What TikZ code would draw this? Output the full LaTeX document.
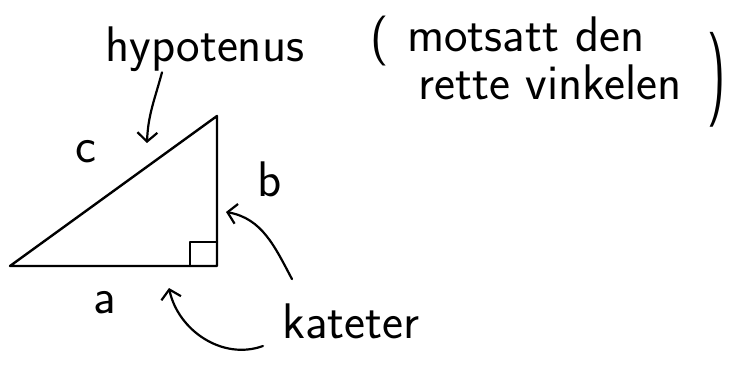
\documentclass[tikz,border=0pt]{standalone}
\usepackage{tikz}
\usetikzlibrary{arrows.meta,positioning}

\begin{document}
\begin{tikzpicture}[
  x=1pt, y=1pt,
  every node/.style={inner sep=0pt, font=\sffamily\fontsize{50}{56}\selectfont},
  side/.style={line width=2.4pt, line join=round, line cap=round},
  pointer/.style={line width=2.2pt, line cap=round, -{Straight Barb[length=9pt, width=20pt]}}
]
\useasboundingbox (0,0) rectangle (731,370);
\coordinate (A) at (10,104);
\coordinate (B) at (217,104);
\coordinate (C) at (217,254);
\draw[side] (A) -- (B) -- (C) -- cycle;
\draw[side] (B) ++(-27,0) -- ++(0,24) -- ++(27,0);
\node (c) at (86,218) {c};
\node (b) at (270,191) {b};
\node (a) at (105,67) {a};
\node[anchor=base west] (hyp) at (105,308) {hypotenus};
\node (lpar) at (380,329) {(};
\node[anchor=base west] (mots) at (407,318) {motsatt den};
\node[anchor=base west] (rette) at (418,270) {rette vinkelen};
\node (rpar) at (717,290) {\scalebox{1}[1.9]{)}};
\node[anchor=base west] (kat) at (282,32) {kateter};
\coordinate (hypEnd) at (147,227);
\coordinate (bEnd) at (226,158);
\coordinate (aEnd) at (169,82);
\draw[pointer] ([xshift=57pt]hyp.south west) to[out=-105, in=88] (hypEnd);
\draw[pointer] ([xshift=10pt,yshift=24pt]kat.north west) to[out=118, in=-10] (bEnd);
\draw[pointer] ([xshift=-19pt,yshift=-8pt]kat.base west) to[out=-160, in=-78] (aEnd);
\end{tikzpicture}
\end{document}
